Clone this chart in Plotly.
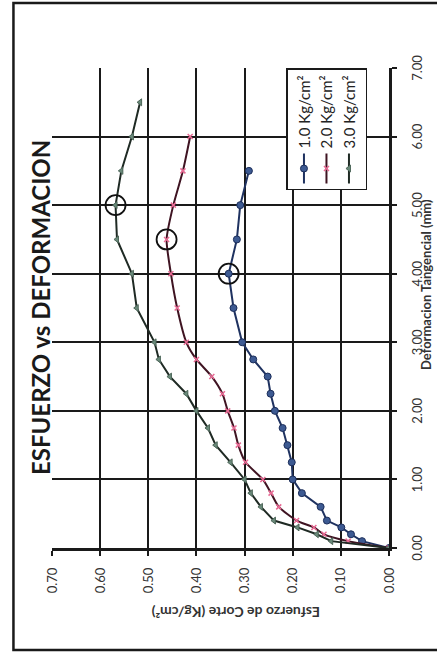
import numpy as np
import plotly.graph_objects as go

# Deformación tangencial (mm) y esfuerzo de corte (Kg/cm²) por carga normal
def_1 = [0, 0.1, 0.2, 0.3, 0.4, 0.6, 0.8, 1.0, 1.25, 1.5, 1.75, 2.0, 2.25, 2.5, 2.75,
         3.0, 3.5, 4.0, 4.5, 5.0, 5.5]
esf_1 = [0, 0.056, 0.079, 0.099, 0.129, 0.142, 0.181, 0.200, 0.202, 0.211, 0.221, 0.237,
         0.246, 0.252, 0.282, 0.305, 0.323, 0.333, 0.316, 0.309, 0.291]

def_2 = [0, 0.1, 0.2, 0.3, 0.4, 0.6, 0.8, 1.0, 1.25, 1.5, 1.75, 2.0, 2.25, 2.5, 2.75,
         3.0, 3.5, 4.0, 4.5, 5.0, 5.5, 6.0]
esf_2 = [0, 0.085, 0.135, 0.156, 0.192, 0.229, 0.245, 0.262, 0.298, 0.313, 0.322, 0.335,
         0.346, 0.368, 0.400, 0.421, 0.440, 0.453, 0.462, 0.448, 0.428, 0.413]

def_3 = [0, 0.1, 0.2, 0.3, 0.4, 0.6, 0.8, 1.0, 1.25, 1.5, 1.75, 2.0, 2.25, 2.5, 2.75,
         3.0, 3.5, 4.0, 4.5, 5.0, 5.5, 6.0, 6.5]
esf_3 = [0, 0.120, 0.150, 0.190, 0.239, 0.266, 0.287, 0.300, 0.329, 0.360, 0.376, 0.400,
         0.421, 0.455, 0.478, 0.487, 0.524, 0.534, 0.565, 0.568, 0.556, 0.534, 0.517]

series_names = ["1.0 Kg/cm²", "2.0 Kg/cm²", "3.0 Kg/cm²"]
x_ticks = [0, 1, 2, 3, 4, 5, 6, 7]
y_ticks = [0, 0.1, 0.2, 0.3, 0.4, 0.5, 0.6, 0.7]

FONT = "Lato, 'Open Sans', sans-serif"

fig = go.Figure()

fig.add_trace(go.Scatter(
    x=def_1, y=esf_1, name=series_names[0], mode="lines+markers",
    line=dict(color="#1f3260", width=2),
    marker=dict(symbol="circle", size=7, color="#3d5a92",
                line=dict(color="#1c2e5a", width=1)),
))
fig.add_trace(go.Scatter(
    x=def_2, y=esf_2, name=series_names[1], mode="lines+markers",
    line=dict(color="#3f1422", width=2, shape="spline", smoothing=0.6),
    marker=dict(symbol="x-thin", size=5, color="#e86a94",
                line=dict(color="#e86a94", width=1.5)),
))
fig.add_trace(go.Scatter(
    x=def_3, y=esf_3, name=series_names[2], mode="lines+markers",
    line=dict(color="#1f2a24", width=2),
    marker=dict(symbol="triangle-up", size=6, color="#6a8a7a",
                line=dict(color="#4d6659", width=1)),
))

# Esfuerzo máximo de cada ensayo, marcado con un círculo
peak_x, peak_y = [], []
for d, e in ((def_1, esf_1), (def_2, esf_2), (def_3, esf_3)):
    i = int(np.argmax(e))
    peak_x.append(d[i])
    peak_y.append(e[i])
fig.add_trace(go.Scatter(
    x=peak_x, y=peak_y, mode="markers", showlegend=False, hoverinfo="skip",
    marker=dict(symbol="circle-open", size=20, color="#111",
                line=dict(color="#111", width=1.8)),
))

axis_common = dict(
    showgrid=True, gridcolor="#1a1a1a", gridwidth=2,
    showline=True, linecolor="#1a1a1a", linewidth=3,
    zeroline=False, ticks="outside", ticklen=5, tickwidth=2, tickcolor="#1a1a1a",
    tickfont=dict(family=FONT, size=13, color="#333"),
)

fig.update_xaxes(range=[0, 7], tickvals=x_ticks,
                 ticktext=[f"{v:.2f}" for v in x_ticks], ticklabelstandoff=9,
                 **axis_common)
fig.update_yaxes(range=[0, 0.7], tickvals=y_ticks,
                 ticktext=[f"{v:.2f}" for v in y_ticks], ticklabelstandoff=9,
                 **axis_common)

fig.update_layout(
    width=662, height=437,
    margin=dict(l=114, r=68, t=52, b=44),
    paper_bgcolor="white", plot_bgcolor="white",
    font=dict(family=FONT, color="#222"),
    legend=dict(
        x=1, xanchor="right", y=0.305, yanchor="top",
        bgcolor="white", bordercolor="#1a1a1a", borderwidth=1.5,
        font=dict(family=FONT, size=15, color="#222"),
    ),
    annotations=[
        dict(text="<b>ESFUERZO vs DEFORMACION</b>", xref="paper", yref="paper",
             x=0.5, y=1.035, xanchor="center", yanchor="middle", showarrow=False,
             font=dict(family=FONT, size=24, color="#1a1a1a")),
        dict(text="<b>Deformacion Tangencial (mm)</b>", xref="paper", yref="paper",
             x=0.548, y=-0.1085, xanchor="center", yanchor="middle", showarrow=False,
             font=dict(family=FONT, size=13, color="#333")),
        dict(text="<b>Esfuerzo de Corte (Kg/cm²)</b>", xref="paper", yref="paper",
             x=-0.133, y=0.4545, xanchor="center", yanchor="middle", showarrow=False,
             textangle=-90, font=dict(family=FONT, size=14, color="#333")),
    ],
    shapes=[
        dict(type="rect", xref="paper", yref="paper",
             x0=-0.2125, x1=1.1354, y0=-0.16, y1=1.1144,
             line=dict(color="#1a1a1a", width=2.5), fillcolor="rgba(0,0,0,0)"),
    ],
)

# The sheet is printed sideways: turn the whole figure a quarter turn counter-clockwise
post = """
var gd = document.getElementById('{plot_id}');
document.documentElement.style.margin = '0';
document.documentElement.style.overflow = 'hidden';
document.body.style.margin = '0';
document.body.style.overflow = 'hidden';
gd.style.position = 'absolute';
gd.style.left = '0px';
gd.style.top = '0px';
gd.style.transformOrigin = '0 0';
gd.style.transform = 'translate(0px, 662px) rotate(-90deg)';
"""

fig.write_html("out.html", config={"displayModeBar": False}, post_script=post)
